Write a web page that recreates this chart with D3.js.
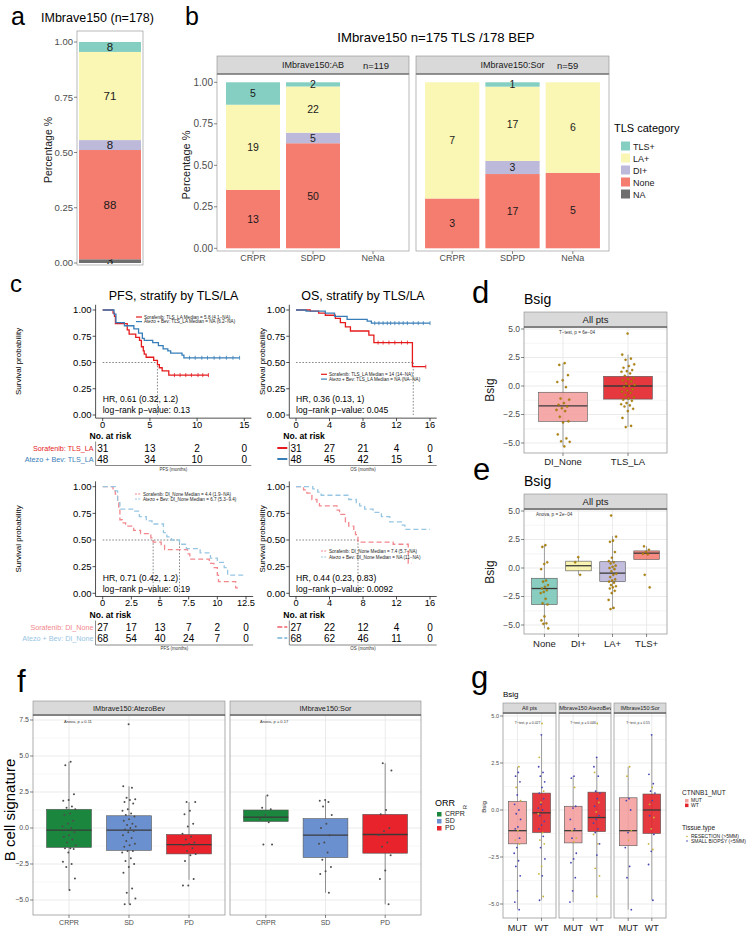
<!DOCTYPE html>
<html>
<head>
<meta charset="utf-8">
<script src="https://cdn.jsdelivr.net/npm/d3@7"></script>
<style>
  body { margin: 0; background: #fff; }
  text { font-family: "Liberation Sans", Arial, Helvetica, sans-serif; }
</style>
</head>
<body>
<script>
// ---------- data: panels a / b (TLS category counts, stacked bottom -> top)
const tlsCats = ["NA", "None", "DI+", "LA+", "TLS+"];
const tlsFill = ["#6e6e6e", "#F47D70", "#BDB9DA", "#FAF6B4", "#84CFC1"];
const legendCats = ["TLS+", "LA+", "DI+", "None", "NA"];
const allCounts = [3, 88, 8, 71, 8];
const respCats = ["CRPR", "SDPD", "NeNa"];
const abCounts = [[0, 13, 0, 19, 5], [0, 50, 5, 22, 2], [0, 0, 0, 0, 0]];
const sorCounts = [[0, 3, 0, 7, 0], [0, 17, 3, 17, 1], [0, 5, 0, 6, 0]];
const pctTicks = [0, 0.25, 0.5, 0.75, 1];

// ---------- data: panel c (Kaplan-Meier steps [time, survival])
const pfsTlsSor = [[0,1],[1.1,0.97],[1.25,0.94],[1.35,0.87],[2.6,0.81],[2.8,0.77],[3.5,0.74],[3.9,0.71],[4.1,0.65],[4.3,0.61],[4.4,0.58],[4.6,0.55],[5.4,0.52],[5.8,0.48],[6.0,0.45],[6.3,0.42],[7.0,0.38],[11.2,0.38]];
const pfsTlsAB = [[0,1],[1.2,0.96],[1.4,0.88],[2.3,0.85],[3.3,0.82],[3.8,0.78],[4.2,0.73],[4.4,0.71],[5.3,0.69],[5.9,0.66],[6.4,0.63],[6.9,0.61],[7.2,0.59],[8.4,0.57],[8.6,0.545],[14.5,0.545]];
const osTlsSor = [[0,1],[1.7,0.99],[2.7,0.97],[3.5,0.95],[4.7,0.92],[5.3,0.88],[5.9,0.84],[6.5,0.80],[8.7,0.76],[9.3,0.69],[13.9,0.46],[15.5,0.46]];
const osTlsAB = [[0,1],[1.2,0.99],[3.5,0.97],[4.6,0.94],[6.1,0.91],[8.5,0.895],[9.0,0.875],[16,0.875]];
const pfsDiSor = [[0,1],[0.9,0.96],[1.1,0.93],[1.3,0.85],[1.4,0.79],[1.5,0.69],[1.7,0.66],[2.0,0.63],[2.7,0.59],[3.3,0.56],[4.2,0.52],[4.4,0.48],[5.1,0.45],[5.4,0.41],[6.8,0.41],[7.4,0.37],[7.6,0.32],[9.3,0.28],[9.7,0.24],[10.0,0.17],[10.1,0.11],[11.6,0.05],[11.8,0.05]];
const pfsDiAB = [[0,1],[1.1,0.96],[1.3,0.85],[1.5,0.79],[2.7,0.77],[3.2,0.72],[3.8,0.68],[4.3,0.65],[5.3,0.57],[5.6,0.53],[6.0,0.50],[6.7,0.46],[7.3,0.42],[8.5,0.38],[9.4,0.33],[10.0,0.29],[10.6,0.24],[10.9,0.17],[12.5,0.17]];
const osDiSor = [[0,1],[0.9,0.97],[1.3,0.94],[1.9,0.88],[2.5,0.84],[2.8,0.82],[4.9,0.78],[5.2,0.74],[5.9,0.67],[6.3,0.63],[6.9,0.59],[7.1,0.55],[7.4,0.48],[11.6,0.46],[13.4,0.28],[13.8,0.28]];
const osDiAB = [[0,1],[2.0,0.98],[2.6,0.95],[3.0,0.92],[6.3,0.88],[7.2,0.85],[7.6,0.82],[8.2,0.79],[9.2,0.76],[10.2,0.72],[11.2,0.67],[12.6,0.64],[13.0,0.60],[16,0.60]];
const pfsTlsSorCens = [7.6, 8.2, 8.8, 9.4, 10.1, 10.6, 11.2];
const pfsTlsABCens = [9.2, 9.8, 10.5, 11.1, 11.8, 12.4, 13.1, 13.8, 14.5];
const osTlsSorCens = [9.8, 10.4, 11.1, 11.8, 12.6, 13.3, 15.5];
const osTlsABCens = [9.4, 9.9, 10.4, 10.9, 11.3, 11.8, 12.3, 12.8, 13.3, 14, 14.6, 15.2, 16];
const riskPfsTls = [[31, 13, 2, 0], [48, 34, 10, 0]];
const riskOsTls = [[31, 27, 21, 4, 0], [48, 45, 42, 15, 1]];
const riskPfsDi = [[27, 17, 13, 7, 2, 0], [68, 54, 40, 24, 7, 0]];
const riskOsDi = [[27, 22, 12, 4, 0], [68, 62, 46, 11, 0]];

// ---------- data: panels d / e (box stats [lo, q1, median, q3, hi] + points)
const dCats = ["DI_None", "TLS_LA"];
const dStats = [[-5.3, -3.1, -1.75, -0.55, 2.0], [-3.6, -1.15, 0.0, 0.85, 2.75]];
const dPoints = [
  [2.0, 1.85, 0.95, 0.5, 0.35, -0.1, -1.1, -1.2, -1.5, -1.65, -1.8, -1.95, -2.1, -2.2, -2.7, -3.1, -3.2, -4.25, -4.6, -4.85, -4.9, -5.3],
  [4.6, 2.75, 2.4, 2.3, 1.9, 1.75, 1.6, 1.4, 1.3, 1.25, 1.1, 0.9, 0.7, 0.6, 0.5, 0.4, 0.2, 0.1, 0.0, -0.1, -0.3, -0.4, -0.5, -0.6, -0.8, -1.0, -1.1, -1.2, -1.3, -1.5, -1.6, -1.7, -1.8, -2.0, -2.2, -2.8, -3.5, -3.6]
];
const eCats = ["None", "DI+", "LA+", "TLS+"];
const eStats = [[-5.3, -3.2, -1.8, -0.9, 2.0], [-0.6, -0.25, 0.2, 0.6, 0.95], [-3.6, -1.2, -0.45, 0.55, 2.8], [0.75, 0.75, 1.3, 1.5, 1.9]];
const ePoints = [
  [2.0, 1.85, 0.5, 0.35, -0.1, -1.1, -1.2, -1.5, -1.65, -1.8, -1.95, -2.1, -2.2, -2.7, -3.1, -3.2, -4.25, -4.6, -4.85, -4.9, -5.3],
  [0.95, 0.5, -0.6],
  [4.6, 2.75, 2.4, 2.3, 1.4, 0.9, 0.6, 0.5, 0.4, 0.2, 0.1, 0.0, -0.1, -0.3, -0.5, -0.6, -0.8, -1.0, -1.1, -1.2, -1.3, -1.5, -1.6, -1.7, -1.8, -2.0, -2.2, -2.8, -3.5, -3.6],
  [1.9, 1.6, 1.4, 1.25, 1.2, -0.6, -1.7]
];

// ---------- data: panel f
const orrCats = ["CRPR", "SD", "PD"];
const fStatsAB = [[-4.3, -1.35, -0.15, 1.3, 4.6], [-5.3, -1.55, -0.15, 0.85, 2.9], [-3.6, -1.8, -1.15, -0.45, 1.8]];
const fStatsSor = [[0.45, 0.45, 0.75, 1.25, 2.25], [-4.5, -2.05, -0.5, 0.65, 2.0], [-5.3, -1.75, -0.45, 0.95, 4.5]];
const fPointsAB = [
  [4.6, 4.35, 2.35, 1.95, 1.9, 1.5, 1.4, 1.3, 1.0, 0.9, 0.5, 0.3, 0.1, 0.0, -0.1, -0.3, -0.5, -0.6, -0.8, -1.0, -1.2, -1.4, -1.4, -1.45, -1.7, -2.35, -2.5, -2.7, -3.5, -4.3],
  [7.2, 2.9, 2.8, 2.1, 2.0, 1.95, 1.8, 1.7, 1.3, 1.2, 1.0, 0.9, 0.8, 0.6, 0.5, 0.3, 0.2, 0.1, 0.0, -0.1, -0.2, -0.3, -0.5, -0.7, -0.9, -1.1, -1.2, -1.3, -1.6, -1.6, -1.7, -2.1, -2.3, -2.5, -2.7, -3.1, -4.2, -4.5, -4.9, -5.3, -5.3],
  [1.8, 1.8, 1.2, 0.95, 0.3, 0.1, -0.4, -0.6, -0.8, -1.0, -1.1, -1.2, -1.4, -1.6, -1.8, -1.9, -2.3, -3.55, -4.0, -4.0]
];
const fPointsSor = [
  [2.25, 1.4, 1.3, 0.9, 0.6, 0.4, -1.15, -1.15],
  [1.95, 1.9, 1.8, 1.5, 0.9, 0.3, 0.0, -0.5, -1.0, -1.1, -1.7, -2.2, -2.7, -3.0, -3.2, -4.5],
  [4.5, 4.0, 1.25, 0.95, 0.0, -0.2, -0.5, -1.0, -1.3, -1.9, -2.95, -3.55, -5.3]
];

// ---------- data: panel g (CTNNB1 MUT / WT, split by tissue type)
const gFacets = ["All pts", "IMbrave150:AtezoBev", "IMbrave150:Sor"];
const mutCats = ["MUT", "WT"];
const gStats = [
  [[-5.3, -1.8, -1.1, 0.45, 2.3], [-4.8, -1.2, -0.15, 0.9, 4.0]],
  [[-4.9, -1.75, -1.1, 0.2, 1.8], [-4.6, -1.15, -0.4, 0.95, 2.8]],
  [[-5.3, -1.9, -1.1, 0.65, 2.3], [-4.8, -1.25, 0.0, 0.85, 4.0]]
];
const gBiopsy = [
  [[2.0, 1.8, 1.5, 0.8, 0.3, 0.0, -0.2, -0.5, -0.9, -1.0, -1.5, -2.0, -2.3, -2.7, -3.0, -3.5, -4.3, -4.9, -5.3],
   [4.0, 2.3, 2.0, 1.8, 1.5, 1.2, 0.9, 0.6, 0.3, 0.1, 0.0, -0.3, -0.6, -0.8, -1.0, -1.4, -2.0, -2.6, -3.5, -4.8]],
  [[1.8, 1.7, 0.2, 0.1, -0.5, -1.0, -1.5, -2.3, -2.6, -2.8, -3.6, -4.3, -4.9],
   [2.8, 2.3, 1.8, 1.0, 0.9, 0.6, 0.2, -0.3, -0.5, -0.7, -1.0, -1.2, -1.8, -2.4]],
  [[0.6, 0.5, 0.0, -1.2, -2.0, -3.0, -3.6, -5.3],
   [4.0, 1.9, 1.4, 1.0, 0.9, 0.5, -0.3, -1.3, -2.2, -2.9, -4.8]]
];
const gResection = [
  [[2.3, 1.2, 0.5, -1.1, -1.6, -1.8], [4.6, 2.8, 1.0, 0.4, -0.2, -1.2, -1.6, -1.8, -3.0, -3.4, -4.6]],
  [[1.2, -1.1, -1.5, -1.7], [4.6, 2.0, 0.4, -0.1, -1.3, -1.8, -3.1, -3.5, -4.6]],
  [[2.3, 1.8, -1.1, -1.6], [1.2, 0.3, -0.4, -1.0, -1.8, -2.1]]
];
const gTests = ["T\u2212test, p = 0.027", "T\u2212test, p = 0.046", "T\u2212test, p = 0.55"];

// ---------- setup
const svg = d3.select("body").append("svg").attr("width", 750).attr("height", 933);
svg.append("rect").attr("width", 750).attr("height", 933).attr("fill", "#fff");
const grey30 = "#4D4D4D";
const num = v => d3.format(".1f")(v).replace("-", "\u2212");
let clipN = 0;

function txt(s, x, y, size, o = {}) {
  const t = svg.append("text").attr("x", x).attr("y", y).attr("font-size", size).attr("fill", o.fill || "#000").text(s);
  if (o.anchor) t.attr("text-anchor", o.anchor);
  if (o.weight) t.attr("font-weight", o.weight);
  if (o.family) t.attr("font-family", o.family);
  if (o.rot) t.attr("transform", `rotate(-90,${x},${y})`);
  return t;
}

function strip(x0, x1, y0, y1, s, size) {
  const id = "clip" + clipN++;
  svg.append("clipPath").attr("id", id).append("rect")
    .attr("x", x0).attr("y", y0).attr("width", x1 - x0).attr("height", y1 - y0);
  svg.append("rect").attr("x", x0).attr("y", y0).attr("width", x1 - x0).attr("height", y1 - y0)
    .attr("fill", "#D9D9D9").attr("stroke", "#8a8a8a").attr("stroke-width", 0.6);
  txt(s, (x0 + x1) / 2, (y0 + y1) / 2 + size * 0.36, size, { anchor: "middle", fill: "#1a1a1a" })
    .attr("clip-path", `url(#${id})`);
  svg.append("line").attr("x1", x0).attr("x2", x1).attr("y1", y1).attr("y2", y1)
    .attr("stroke", "#444").attr("stroke-width", 1.2);
}

function yAxis(xPos, y, ticks, size, fmt) {
  ticks.forEach(v => {
    svg.append("line").attr("x1", xPos - 3).attr("x2", xPos).attr("y1", y(v)).attr("y2", y(v))
      .attr("stroke", "#333").attr("stroke-width", 0.6);
    txt(fmt(v), xPos - 4, y(v) + size * 0.35, size, { anchor: "end", fill: grey30 });
  });
}

function stackBar(counts, xc, w, y, size) {
  const total = d3.sum(counts);
  if (!total) return;
  let cum = 0;
  counts.forEach((c, i) => {
    const a = cum / total, b = (cum + c) / total;
    cum += c;
    if (!c) return;
    svg.append("rect").attr("x", xc - w / 2).attr("width", w)
      .attr("y", y(b)).attr("height", y(a) - y(b)).attr("fill", tlsFill[i]);
    txt(c, xc, y((a + b) / 2) + size * 0.36, size, { anchor: "middle", fill: "#1a1a1a" });
  });
}

// ---------- panel a
txt("a", 11, 25, 25);
txt("IMbrave150 (n=178)", 41, 22, 12.5);
const yA = d3.scaleLinear().domain([0, 1]).range([263, 42]);
svg.append("clipPath").attr("id", "clipA").append("rect").attr("x", 77).attr("y", 31).attr("width", 66).attr("height", 233);
const gA = svg.append("g").attr("clip-path", "url(#clipA)");
{
  // drawn inside the clip so the tiny NA label is cut like the original
  const total = d3.sum(allCounts);
  let cum = 0;
  allCounts.forEach((c, i) => {
    const a = cum / total, b = (cum + c) / total;
    cum += c;
    gA.append("rect").attr("x", 79).attr("width", 62).attr("y", yA(b)).attr("height", yA(a) - yA(b)).attr("fill", tlsFill[i]);
    gA.append("text").attr("x", 110).attr("y", yA((a + b) / 2) + 4.2).attr("text-anchor", "middle")
      .attr("font-size", 11.5).attr("fill", "#1a1a1a").text(c);
  });
}
svg.append("rect").attr("x", 77).attr("y", 31).attr("width", 66).attr("height", 234)
  .attr("fill", "none").attr("stroke", "#9a9a9a").attr("stroke-width", 0.7);
yAxis(77, yA, pctTicks, 9.5, d3.format(".2f"));
txt("Percentage %", 52, 150, 10.5, { anchor: "middle", rot: true, fill: "#1a1a1a" });

// ---------- panel b
txt("b", 185, 25, 25);
txt("IMbrave150 n=175 TLS /178 BEP", 436, 42, 13.2, { anchor: "middle" });
const yB = d3.scaleLinear().domain([0, 1]).range([248.3, 82.3]);
[
  { x0: 217, x1: 409, counts: abCounts, name: "IMbrave150:AB", n: "n=119", nx: 363 },
  { x0: 416, x1: 609, counts: sorCounts, name: "IMbrave150:Sor", n: "n=59", nx: 557 }
].forEach(f => {
  const x = d3.scalePoint().domain(respCats).range([f.x0, f.x1]).padding(0.6);
  strip(f.x0, f.x1, 56, 74, f.name, 9);
  txt(f.n, f.nx, 69, 9.5, { family: "'Liberation Serif', 'Times New Roman', serif", fill: "#1a1a1a" });
  respCats.forEach((c, i) => {
    stackBar(f.counts[i], x(c), x.step() * 0.9, yB, 10.5);
    svg.append("line").attr("x1", x(c)).attr("x2", x(c)).attr("y1", 251).attr("y2", 254).attr("stroke", "#333").attr("stroke-width", 0.6);
    txt(c, x(c), 260.5, 9, { anchor: "middle", fill: grey30 });
  });
  svg.append("rect").attr("x", f.x0).attr("y", 74).attr("width", f.x1 - f.x0).attr("height", 177)
    .attr("fill", "none").attr("stroke", "#9a9a9a").attr("stroke-width", 0.7);
});
yAxis(217, yB, pctTicks, 10, d3.format(".2f"));
txt("Percentage %", 190, 165, 11, { anchor: "middle", rot: true, fill: "#1a1a1a" });
txt("TLS category", 614, 132, 11);
legendCats.forEach((c, i) => {
  const k = tlsCats.indexOf(c);
  svg.append("rect").attr("x", 621).attr("y", 141.5 + i * 12).attr("width", 9).attr("height", 9).attr("fill", tlsFill[k]);
  txt(c, 633, 149.5 + i * 12, 9, { fill: "#1a1a1a" });
});

// ---------- panel c (Kaplan-Meier)
function survAt(data, t) {
  let s = 1;
  data.forEach(d => { if (d[0] <= t) s = d[1]; });
  return s;
}

function kmPanel(o) {
  const x = d3.scaleLinear().domain([0, o.tMax]).range(o.xr);
  const y = d3.scaleLinear().domain([0, 1]).range(o.yr);
  const ax = x(-0.05 * o.tMax), ay = y(-0.03), xEnd = x(1.05 * o.tMax);
  const g = svg.append("g");
  const guide = { stroke: "#555", "stroke-width": 0.7, "stroke-dasharray": "1.6,1.6" };
  const seg = (x1, y1, x2, y2, st) => {
    const l = g.append("line").attr("x1", x1).attr("y1", y1).attr("x2", x2).attr("y2", y2);
    Object.entries(st).forEach(([k, v]) => l.attr(k, v));
    return l;
  };
  seg(x(0), y(0.5), x(d3.max(o.medians)), y(0.5), guide);
  o.medians.forEach(m => seg(x(m), y(0.5), x(m), y(0), guide));

  const line = d3.line().x(d => x(d[0])).y(d => y(d[1])).curve(d3.curveStepAfter);
  o.curves.forEach(c => {
    g.append("path").attr("d", line(c.data)).attr("fill", "none").attr("stroke", c.color)
      .attr("stroke-width", 1.3).attr("stroke-dasharray", c.dash || null);
    (c.cens || []).forEach(t => {
      const yy = y(survAt(c.data, t));
      seg(x(t), yy - 2, x(t), yy + 2, { stroke: c.color, "stroke-width": 0.8 });
    });
  });

  const axis = { stroke: "#222", "stroke-width": 0.8 };
  seg(ax, y(1.05), ax, ay, axis);
  seg(ax, ay, xEnd, ay, axis);
  pctTicks.forEach(v => {
    seg(ax - 3, y(v), ax, y(v), axis);
    txt(d3.format(".2f")(v), ax - 4, y(v) + 3.4, 9.5, { anchor: "end" });
  });
  o.ticks.forEach(t => {
    seg(x(t), ay, x(t), ay + 3, axis);
    txt(t, x(t), ay + 10, 9.3, { anchor: "middle" });
  });
  if (o.title) txt(o.title, (ax + xEnd) / 2, o.titleY, 12.5, { anchor: "middle" });
  txt("Survival probability", o.ylabX, (y(1.05) + ay) / 2, 8, { anchor: "middle", rot: true });
  txt(o.hr, x(0), o.hrY, 8.6);
  txt(o.p, x(0), o.hrY + 11, 8.6);

  o.curves.forEach((c, i) => {
    const ly = o.legY + i * o.legDy;
    seg(o.legX, ly, o.legX + 6, ly, { stroke: c.color, "stroke-width": 1.2, "stroke-dasharray": c.dash ? "2,1.2" : null });
    txt(o.legText[i], o.legX + 8, ly + 1.6, 4.6, { fill: "#222" });
  });

  txt("No. at risk", ax - 6, o.narY, 8.6, { weight: "bold" });
  o.risk.forEach((row, r) => {
    const ry = o.rowY[r];
    row.forEach((v, j) => txt(v, x(o.ticks[j]), ry, 10, { anchor: "middle" }));
    if (o.riskText) txt(o.riskLabels[r], ax - 2, ry - 0.5, 7.2, { anchor: "end", fill: o.curves[r].color });
    else seg(ax - 12, ry - 3.5, ax - 2, ry - 3.5, { stroke: o.curves[r].color, "stroke-width": 2, "stroke-dasharray": o.curves[r].dash ? "5,2" : null });
  });
  seg(ax, o.rowY[0] - 10, ax, o.tableBottom, { stroke: "#888", "stroke-width": 1 });
  seg(ax, o.tableBottom, xEnd, o.tableBottom, { stroke: "#888", "stroke-width": 1 });
  txt(o.xTitle, (ax + xEnd) / 2, o.tableBottom + 5, 4.5, { anchor: "middle", fill: "#333" });
}

const red = "#E41A1C", blue = "#377EB8", pink = "#F2878D", lblue = "#97C6E3";
txt("c", 10, 292, 24);
kmPanel({
  tMax: 15, xr: [102.7, 244.3], yr: [415, 310], ticks: [0, 5, 10, 15], medians: [5.8],
  curves: [{ data: pfsTlsSor, color: red, cens: pfsTlsSorCens }, { data: pfsTlsAB, color: blue, cens: pfsTlsABCens }],
  title: "PFS, stratify by TLS/LA", titleY: 300, ylabX: 21,
  hr: "HR, 0.61 (0.32, 1.2)", p: "log\u2212rank p\u2212value: 0.13", hrY: 401.5,
  legX: 136, legY: 317, legDy: 4.6,
  legText: ["Sorafenib: TLS_LA Median = 5.8 (4.1\u2212NA)", "Atezo + Bev: TLS_LA Median = NA (6.2\u2212NA)"],
  narY: 439, rowY: [451.5, 462.5], risk: riskPfsTls, riskText: true,
  riskLabels: ["Sorafenib: TLS_LA", "Atezo + Bev: TLS_LA"], tableBottom: 465.5, xTitle: "PFS (months)"
});
kmPanel({
  tMax: 16, xr: [296, 430], yr: [415, 310], ticks: [0, 4, 8, 12, 16], medians: [14],
  curves: [{ data: osTlsSor, color: red, cens: osTlsSorCens }, { data: osTlsAB, color: blue, cens: osTlsABCens }],
  title: "OS, stratify by TLS/LA", titleY: 300, ylabX: 265,
  hr: "HR, 0.36 (0.13, 1)", p: "log\u2212rank p\u2212value: 0.045", hrY: 401.5,
  legX: 321, legY: 374.3, legDy: 4.8,
  legText: ["Sorafenib: TLS_LA Median = 14 (14\u2212NA)", "Atezo + Bev: TLS_LA Median = NA (NA\u2212NA)"],
  narY: 439, rowY: [451.5, 462.5], risk: riskOsTls, riskText: false, tableBottom: 465.5, xTitle: "OS (months)"
});
kmPanel({
  tMax: 12.5, xr: [102.7, 246], yr: [593.3, 486.7], ticks: [0, 2.5, 5, 7.5, 10, 12.5], medians: [4.4, 6.7],
  curves: [{ data: pfsDiSor, color: pink, dash: "5,3" }, { data: pfsDiAB, color: lblue, dash: "5,3" }],
  ylabX: 21,
  hr: "HR, 0.71 (0.42, 1.2)", p: "log\u2212rank p\u2212value: 0.19", hrY: 581,
  legX: 135, legY: 494, legDy: 5,
  legText: ["Sorafenib: DI_None Median = 4.4 (1.9\u2212NA)", "Atezo + Bev: DI_None Median = 6.7 (5.3\u22129.4)"],
  narY: 618, rowY: [630.5, 641.5], risk: riskPfsDi, riskText: true,
  riskLabels: ["Sorafenib: DI_None", "Atezo + Bev: DI_None"], tableBottom: 645, xTitle: "PFS (months)"
});
kmPanel({
  tMax: 16, xr: [296, 430], yr: [593.3, 486.7], ticks: [0, 4, 8, 12, 16], medians: [7.4],
  curves: [{ data: osDiSor, color: pink, dash: "5,3" }, { data: osDiAB, color: lblue, dash: "5,3" }],
  ylabX: 265,
  hr: "HR, 0.44 (0.23, 0.83)", p: "log\u2212rank p\u2212value: 0.0092", hrY: 581,
  legX: 321, legY: 551, legDy: 6,
  legText: ["Sorafenib: DI_None Median = 7.4 (5.7\u2212NA)", "Atezo + Bev: DI_None Median = NA (11\u2212NA)"],
  narY: 618, rowY: [630.5, 641.5], risk: riskOsDi, riskText: false, tableBottom: 645, xTitle: "OS (months)"
});

// ---------- box-plot facets (d, e, f, g)
const jitter = (i, w) => ((((i + 1) * 0.6180339887) % 1) - 0.5) * 2 * w;

function boxFacet(o) {
  const x = d3.scalePoint().domain(o.cats).range([o.px0, o.px1]).padding(0.6);
  const bw = x.step() * 0.75;
  const g = svg.append("g");
  const [lo, hi] = [o.y.invert(o.py1), o.y.invert(o.py0)];
  const hline = (v, col, w) => g.append("line").attr("x1", o.px0).attr("x2", o.px1)
    .attr("y1", o.y(v)).attr("y2", o.y(v)).attr("stroke", col).attr("stroke-width", w);
  o.major.forEach(v => {
    [v - o.stepTick / 2, v + o.stepTick / 2].forEach(m => { if (m > lo && m < hi) hline(m, "#F4F4F4", 0.5); });
  });
  o.major.forEach(v => hline(v, "#E6E6E6", 0.8));
  o.cats.forEach(c => g.append("line").attr("x1", x(c)).attr("x2", x(c)).attr("y1", o.py0).attr("y2", o.py1).attr("stroke", "#E6E6E6").attr("stroke-width", 0.8));

  o.stats.forEach((s, i) => {
    const cx = x(o.cats[i]);
    g.append("line").attr("x1", cx).attr("x2", cx).attr("y1", o.y(s[0])).attr("y2", o.y(s[4]))
      .attr("stroke", o.whisker || "#8c8c8c").attr("stroke-width", 0.8);
    g.append("rect").attr("x", cx - bw / 2).attr("width", bw).attr("y", o.y(s[3])).attr("height", o.y(s[1]) - o.y(s[3]))
      .attr("fill", o.fills[i]).attr("fill-opacity", o.boxOpacity || 1).attr("stroke", "#555").attr("stroke-width", 0.6);
    g.append("line").attr("x1", cx - bw / 2).attr("x2", cx + bw / 2).attr("y1", o.y(s[2])).attr("y2", o.y(s[2]))
      .attr("stroke", "#3a3a3a").attr("stroke-width", o.medW || 1.3);
  });

  o.pointSets.forEach((ps, k) => {
    o.cats.forEach((c, i) => {
      ps.vals[i].forEach((v, j) => {
        g.append("circle").attr("cx", x(c) + jitter(j + k * 5 + i * 3, o.jw)).attr("cy", o.y(v)).attr("r", o.pr)
          .attr("fill", ps.color).attr("stroke", ps.edge || "none").attr("stroke-width", 0.3);
      });
    });
  });

  g.append("rect").attr("x", o.px0).attr("y", o.py0).attr("width", o.px1 - o.px0).attr("height", o.py1 - o.py0)
    .attr("fill", "none").attr("stroke", "#8a8a8a").attr("stroke-width", 0.7);
  strip(o.px0, o.px1, o.sy0, o.py0, o.strip, o.stripSize);
  o.cats.forEach(c => {
    svg.append("line").attr("x1", x(c)).attr("x2", x(c)).attr("y1", o.py1).attr("y2", o.py1 + 3).attr("stroke", "#333").attr("stroke-width", 0.6);
    txt(c, x(c), o.xLabY, o.xLabSize, { anchor: "middle", fill: o.xLabFill || grey30 });
  });
  if (o.note) txt(o.note, o.noteX, o.noteY, o.noteSize, { anchor: o.noteAnchor || "start", fill: "#333" });
}

const bsigTicks = [-5, -2.5, 0, 2.5, 5];
const gold = "#B88A0A", goldEdge = "#7A5A00";

// panel d
txt("d", 472, 303, 31);
txt("Bsig", 524, 304, 14);
const yD = d3.scaleLinear().domain([-5, 5]).range([443, 329]);
boxFacet({
  cats: dCats, px0: 524, px1: 667, py0: 327, py1: 453, sy0: 312, strip: "All pts", stripSize: 9.5,
  y: yD, major: bsigTicks, stepTick: 2.5, stats: dStats, fills: ["#F4A09F", "#E3242A"], boxOpacity: 0.9,
  pointSets: [{ vals: dPoints, color: gold, edge: goldEdge }], jw: 7, pr: 1.1,
  xLabY: 464.5, xLabSize: 9.5, xLabFill: "#222",
  note: "T\u2212test, p = 6e\u221204", noteX: 577, noteY: 333.5, noteSize: 4.6, noteAnchor: "middle"
});
yAxis(524, yD, bsigTicks, 8.5, num);
txt("Bsig", 494, 390, 12, { anchor: "middle", rot: true, fill: "#1a1a1a" });

// panel e
txt("e", 473, 480, 31);
txt("Bsig", 524, 486, 14);
const yE = d3.scaleLinear().domain([-5, 5]).range([625, 511]);
boxFacet({
  cats: eCats, px0: 524, px1: 667, py0: 509, py1: 634, sy0: 494, strip: "All pts", stripSize: 9.5,
  y: yE, major: bsigTicks, stepTick: 2.5, stats: eStats, fills: ["#7CC8B9", "#F8F3A8", "#BCB7DA", "#F47E73"], boxOpacity: 0.9,
  pointSets: [{ vals: ePoints, color: gold, edge: goldEdge }], jw: 4, pr: 1.1,
  xLabY: 646.5, xLabSize: 9.5, xLabFill: "#222",
  note: "Anova, p = 2e\u221204", noteX: 536, noteY: 515.5, noteSize: 4.6
});
yAxis(524, yE, bsigTicks, 8.5, num);
txt("Bsig", 494, 572, 12, { anchor: "middle", rot: true, fill: "#1a1a1a" });

// panel f
txt("f", 17, 692, 31);
const yF = d3.scaleLinear().domain([-5, 7.5]).range([900, 720]);
const fTicks = [-5, -2.5, 0, 2.5, 5, 7.5];
const orrFill = ["#1B873E", "#6B90D0", "#E8232B"];
[
  { px0: 33, px1: 225, strip: "IMbrave150:AtezoBev", stats: fStatsAB, pts: fPointsAB, note: "Anova, p = 0.11", noteX: 64 },
  { px0: 230, px1: 421, strip: "IMbrave150:Sor", stats: fStatsSor, pts: fPointsSor, note: "Anova, p = 0.17", noteX: 260 }
].forEach(f => boxFacet({
  cats: orrCats, px0: f.px0, px1: f.px1, py0: 715, py1: 915, sy0: 701, strip: f.strip, stripSize: 7.3,
  y: yF, major: fTicks, stepTick: 2.5, stats: f.stats, fills: orrFill, whisker: "#777",
  pointSets: [{ vals: f.pts, color: "#4d4d4d" }], jw: 7, pr: 1,
  xLabY: 924.5, xLabSize: 7,
  note: f.note, noteX: f.noteX, noteY: 722.5, noteSize: 4
}));
yAxis(33, yF, fTicks, 7, num);
txt("B cell signature", 15, 810, 15, { anchor: "middle", rot: true });
txt("ORR", 435, 806, 9);
orrCats.forEach((c, i) => {
  svg.append("rect").attr("x", 437).attr("y", 812 + i * 7).attr("width", 4.5).attr("height", 4.5).attr("fill", orrFill[i]);
  txt(c, 445, 816.3 + i * 7, 7, { fill: "#222" });
});

// panel g
txt("g", 471, 688, 31);
txt("Bsig", 503, 697, 8);
txt("R", 467, 807, 6, { anchor: "middle", rot: true, fill: "#333" });
const yG = d3.scaleLinear().domain([-5, 5]).range([904, 716]);
const gX = [[503, 556], [559, 611], [614, 666]];
gFacets.forEach((name, k) => {
  const [px0, px1] = gX[k];
  boxFacet({
    cats: mutCats, px0, px1, py0: 713, py1: 918, sy0: 703, strip: name, stripSize: 5.5,
    y: yG, major: bsigTicks, stepTick: 2.5, stats: gStats[k], fills: ["#F4A09F", "#E3242A"], boxOpacity: 0.9,
    pointSets: [{ vals: gBiopsy[k], color: "#4646B4" }, { vals: gResection[k], color: "#C9B238" }], jw: 3.5, pr: 0.9,
    xLabY: 931, xLabSize: 9, xLabFill: "#222",
    note: gTests[k], noteX: (px0 + px1) / 2 - 2, noteY: 724, noteSize: 3.4, noteAnchor: "middle"
  });
});
yAxis(503, yG, bsigTicks, 5.5, num);
txt("Bsig", 486, 807, 6, { anchor: "middle", rot: true, fill: "#1a1a1a" });
txt("CTNNB1_MUT", 682, 795, 6.5, { fill: "#222" });
mutCats.forEach((c, i) => {
  svg.append("rect").attr("x", 685).attr("y", 799 + i * 4.6).attr("width", 3.5).attr("height", 3.5).attr("fill", i ? "#E3242A" : "#F4A09F");
  txt(c, 691, 802.3 + i * 4.6, 5, { fill: "#222" });
});
txt("Tissue.type", 682, 830, 6.5, { fill: "#222" });
["RESECTION (>5MM)", "SMALL BIOPSY (<5MM)"].forEach((c, i) => {
  svg.append("circle").attr("cx", 687).attr("cy", 836.5 + i * 4.5).attr("r", 0.8).attr("fill", i ? "#4646B4" : "#C9B238");
  txt(c, 691, 838.2 + i * 4.5, 5, { fill: "#222" });
});
</script>
</body>
</html>
